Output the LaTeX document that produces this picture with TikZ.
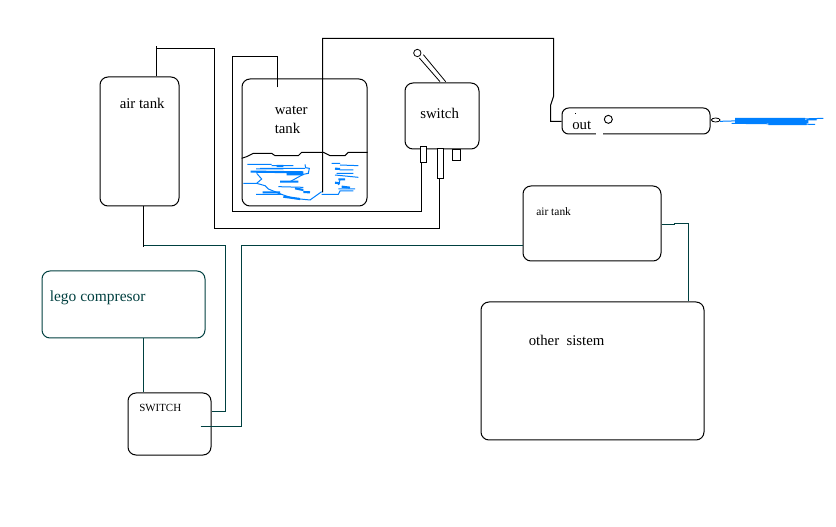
\documentclass[tikz,border=0pt]{standalone}
\usepackage{fontspec}
\setmainfont{Liberation Serif}
\definecolor{teal1}{HTML}{004040}
\definecolor{water}{HTML}{0080FF}
\tikzset{
  box/.style={draw=black,line width=0.75pt,rounded corners=6pt,inner sep=0pt,anchor=north west},
  wire/.style={draw=black,line width=0.75pt,line join=miter},
  twire/.style={draw=teal1,line width=0.75pt,line join=miter},
  label/.style={inner sep=0pt,font=\fontsize{11.1}{13}\selectfont,align=left,anchor=west},
  thin1/.style={draw=black,line width=0.6pt},
  blue1/.style={draw=water,line width=0.75pt},
  blue2/.style={draw=water,line width=1.6pt},
  pin/.style={draw=black,line width=0.7pt,fill=white,inner sep=0pt,anchor=north west},
}
\begin{document}
\begin{tikzpicture}[x=0.75pt,y=-0.75pt]
\useasboundingbox (0,0) rectangle (836,527);
\fill[white] (0,0) rectangle (836,527);
\begin{scope}[shift={(0.5,0.5)}]
% boxes
\node[box,minimum width=59.25pt,minimum height=96.75pt] (airA) at (99,76) {};
\node[box,minimum width=93.75pt,minimum height=95.25pt] (waterT) at (241,78) {};
\node[box,minimum width=55.5pt,minimum height=49.5pt] (swA) at (404,82) {};
\node[box,minimum width=111pt,minimum height=19.5pt,rounded corners=5pt] (outB) at (561,107) {};
\node[box,minimum width=103.5pt,minimum height=56.25pt] (airB) at (522,185) {};
\node[box,minimum width=167.25pt,minimum height=103.5pt] (other) at (480,301) {};
\node[box,draw=teal1,minimum width=122.25pt,minimum height=50.25pt] (lego) at (41,270) {};
\node[box,minimum width=62.25pt,minimum height=46.5pt] (swB) at (127,392) {};
\fill[white] (595,131) rectangle (602,135);
% labels
\node[label] (lA) at (119,103) {air tank};
\node[label,align=left,anchor=north west,font=\fontsize{11.1}{14.3}\selectfont] (lW) at (274,105) {water\\tank};
\node[label] (lS) at (419.5,113) {switch};
\node[label] (lO) at (571.5,124.5) {out};
\node[label,font=\fontsize{8.6}{10}\selectfont] (lB) at (535.5,211) {air tank};
\node[label] (lOt) at (528,340) {other\ \ sistem};
\node[label,text=teal1,font=\fontsize{11.6}{13}\selectfont] (lL) at (49,297) {lego compresor};
\node[label,font=\fontsize{8.2}{10}\selectfont] (lSW) at (138.5,407) {SWITCH};
% stubs on switch
\node[pin,minimum width=4.5pt,minimum height=12pt] (pA) at (419,146) {};
\node[pin,minimum width=4.5pt,minimum height=22.5pt] (pB) at (436,148) {};
\node[pin,minimum width=6pt,minimum height=8.25pt] (pC) at (451,149) {};
% wires
\coordinate (a0) at (156,46); \coordinate (a1) at (156,48); \coordinate (a2) at (214,48); \coordinate (a3) at (214,228); \coordinate (a4) at (439,228);
\draw[wire] (airA.north -| a0) -- (a0);
\draw[wire] (a1) -- (a2) -- (a3) -- (a4) -- (pB.south -| a4);
\coordinate (w0) at (277,87); \coordinate (w1) at (277,56); \coordinate (w2) at (232,56); \coordinate (w3) at (232,211); \coordinate (w4) at (421,211);
\draw[wire] (w0) -- (w1) -- (w2) -- (w3) -- (w4) -- (pA.south -| w4);
\coordinate (o0) at (322,192); \coordinate (o1) at (322,38); \coordinate (o2) at (553,38); \coordinate (o3) at (553,96); \coordinate (o4) at (550,105); \coordinate (o5) at (550,121);
\draw[wire] (o0) -- (o1) -- (o2) -- (o3) -- (o4) -- (o5) -- (outB.west |- o5);
\coordinate (b00) at (143,247); \coordinate (b0) at (143,245); \coordinate (b1) at (225,245); \coordinate (b2) at (225,411);
\draw[wire] (airA.south -| b00) -- (b00);
\draw[twire] (b0) -- (b1) -- (b2) -- (swB.east |- b2);
\draw[twire] (lego.south -| b0) -- (swB.north -| b0);
\coordinate (c0) at (200,426); \coordinate (c1) at (241,426); \coordinate (c2) at (241,245);
\draw[twire] (c0) -- (c1) -- (c2) -- (airB.west |- c2);
\coordinate (d0) at (674,224); \coordinate (d01) at (674,223); \coordinate (d1) at (688,223);
\draw[twire] (airB.east |- d0) -- (d0) -- (d01) -- (d1) -- (other.north -| d1);
\end{scope}
% water surface and handle, in crop coordinates
\begin{scope}[shift={(220,30)},x=0.25pt,y=-0.25pt]
\draw[thin1,line width=0.75pt] (65,385) -- (80,380) -- (100,370) -- (155,370) -- (165,377) -- (235,377) -- (245,367) -- (310,367) -- (330,377) -- (375,377) -- (385,367) -- (443,367);
\draw[thin1,line width=0.6pt] (592,69) circle (11);
\draw[thin1] (598,84) -- (660,155);
\draw[thin1] (610,74) -- (677,155);
\end{scope}
% scribbles
\begin{scope}[shift={(240,145)},x=0.25pt,y=-0.25pt]
\draw[blue1] (22,58) -- (95,58) (95,62) -- (160,62) (48,72) -- (130,72) (60,70) -- (195,70) (195,58) -- (197,68) -- (208,70) -- (205,85) -- (190,88) -- (150,110) (50,85) -- (65,102) -- (50,115) -- (75,122) -- (85,132) -- (130,150) -- (160,160) -- (210,165) -- (245,140) (10,115) -- (50,115) (115,125) -- (190,127) (48,148) -- (125,148) (245,148) -- (295,148) -- (300,138) -- (340,138) (275,55) -- (300,55) (300,60) -- (355,62) (300,75) -- (340,75) (290,85) -- (340,85) (285,90) -- (355,97) (295,132) -- (345,132) (300,105) -- (295,120);
\draw[blue2] (110,63) -- (130,63) (32,80) -- (52,80) (45,80) -- (190,82) (140,88) -- (190,88) (120,110) -- (175,110) (165,130) -- (190,135) (190,141) -- (210,142) (68,142) -- (120,142) (130,155) -- (180,162) (285,71) -- (300,72) (295,103) -- (315,103) (285,113) -- (300,115) (305,125) -- (330,128);
\end{scope}
% out details
\begin{scope}[shift={(530,85)},x=0.25pt,y=-0.25pt]
\draw[thin1,line width=0.7pt] (235,103) circle (12);
\fill[black] (135,85) rectangle (138,88);
\end{scope}
\begin{scope}[shift={(700,105)},x=0.25pt,y=-0.25pt]
\draw[thin1] (47,45) ellipse (13 and 6);
\draw[blue1] (60,49) -- (370,40) (320,45) -- (350,45) (95,55) -- (345,58);
\draw[blue2,line width=2.2pt] (105,43) -- (315,43) (105,49) -- (325,50) (205,56) -- (320,56);
\end{scope}
\end{tikzpicture}
\end{document}
